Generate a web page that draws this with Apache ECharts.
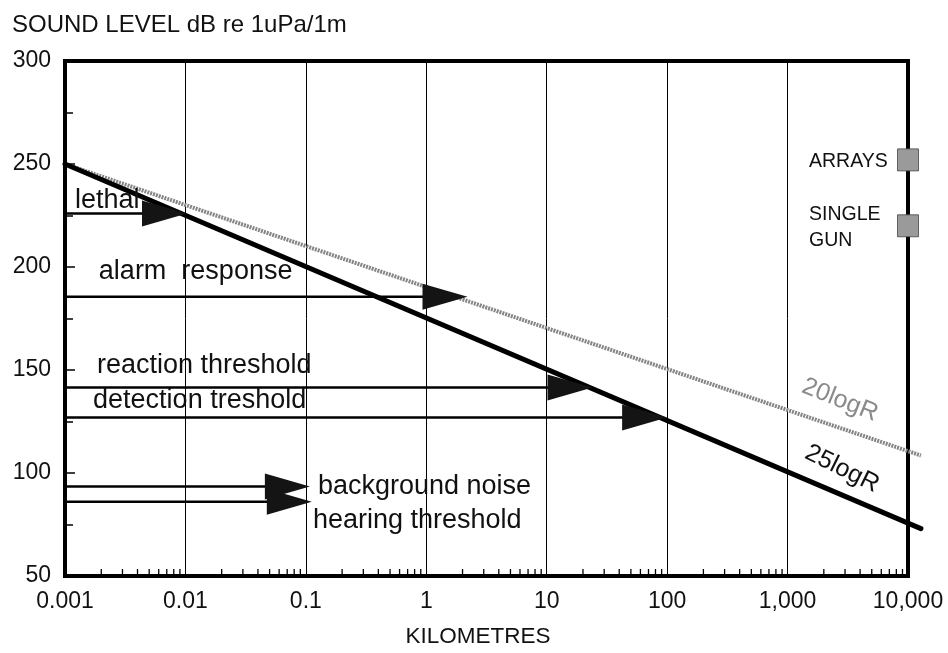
<!DOCTYPE html>
<html>
<head>
<meta charset="utf-8">
<script src="https://cdn.jsdelivr.net/npm/echarts@6/dist/echarts.min.js"></script>
<style>html,body{margin:0;padding:0;background:#fff}#c{width:948px;height:653px}</style>
</head>
<body>
<div id="c"></div>
<script>
// ---- data ----
const xTickLabels = ['0.001', '0.01', '0.1', '1', '10', '100', '1,000', '10,000'];
const line25logR = [[0.001, 250], [12800, 73]];
const line20logR = [[0.001, 250], [12800, 108.5]];
const arrowNames = ['lethal', 'alarm  response', 'reaction threshold', 'detection treshold', 'background noise', 'hearing threshold'];
const arrowLevels = [226, 185.5, 141.5, 127, 93.5, 86];
const arrowTips = [0.0103, 2.2, 24, 100, 0.108, 0.112];
const arrowLabelX = [0.00121, 0.00191, 0.00184, 0.00171, 0.126, 0.1146];
const arrowLabelY = [232.5, 197.6, 152, 135.4, 93.2, 76.7];
const sourceNames = ['ARRAYS', 'SINGLE\nGUN'];
const sourceLevels = [252, 220];
const sourceRange = 10000;
const sourceLabelX = [1507, 1507];
const sourceLabelY = [251, 219];
const lineLabelNames = ['20logR', '25logR'];
const lineLabelX = [2723, 2832];
const lineLabelY = [135.4, 102];

const FONT = 'Liberation Sans, Arial, Helvetica, sans-serif';

// minor tick positions on the log axis (2..9 within each decade)
const minorTicks = [];
for (let e = -3; e < 4; e++) {
  for (let m = 2; m <= 9; m++) minorTicks.push([m * Math.pow(10, e), 50]);
}

function lineSeries(name, data, style) {
  return {
    type: 'custom', name: name, z: name === '25logR' ? 5 : 4, clip: false,
    data: [data.flat()],
    renderItem: function (params, api) {
      const a = api.coord([api.value(0), api.value(1)]);
      const b = api.coord([api.value(2), api.value(3)]);
      return { type: 'line', shape: { x1: a[0], y1: a[1], x2: b[0], y2: b[1] }, style: style };
    },
    dimensions: ['x', 'y', 'x2', 'y2'],
    encode: { x: [0, 2], y: [1, 3] }
  };
}

const chart = echarts.init(document.getElementById('c'));
chart.setOption({
  animation: false,
  backgroundColor: '#fff',
  textStyle: { fontFamily: FONT },
  title: {
    text: 'SOUND LEVEL dB re 1uPa/1m',
    left: 7, top: 8,
    textStyle: { fontFamily: FONT, fontSize: 24, fontWeight: 'normal', color: '#111' }
  },
  grid: {
    left: 65, right: 40, top: 61, bottom: 77,
    show: true, borderColor: '#000', borderWidth: 4, backgroundColor: 'transparent'
  },
  xAxis: {
    type: 'log', logBase: 10, min: 0.001, max: 10000,
    name: 'KILOMETRES', nameLocation: 'middle', nameGap: 49,
    nameTextStyle: { fontFamily: FONT, fontSize: 22.5, color: '#111', padding: [0, 17, 0, 0] },
    axisLine: { lineStyle: { color: '#000', width: 4 } },
    axisTick: { show: false },
    axisLabel: {
      fontFamily: FONT, fontSize: 23, color: '#111', margin: 14,
      formatter: function (v) {
        const i = Math.round(Math.log10(v)) + 3;
        return xTickLabels[i] !== undefined ? xTickLabels[i] : '';
      }
    },
    splitLine: { show: true, lineStyle: { color: '#000', width: 1 } }
  },
  yAxis: {
    type: 'value', min: 50, max: 300, interval: 50,
    axisLine: { show: true, lineStyle: { color: '#000', width: 4 } },
    axisTick: { show: true, inside: true, length: 10, lineStyle: { color: '#000', width: 1.5 } },
    minorTick: { show: true, splitNumber: 2, length: 8, lineStyle: { color: '#000', width: 1.5 } },
    axisLabel: { fontFamily: FONT, fontSize: 23, color: '#111', margin: 14 },
    splitLine: { show: false }
  },
  series: [
    {
      type: 'custom', name: 'minorTicks', z: 3,
      data: minorTicks,
      renderItem: function (params, api) {
        const p = api.coord([api.value(0), api.value(1)]);
        return { type: 'line', shape: { x1: p[0], y1: p[1], x2: p[0], y2: p[1] - 7 },
                 style: { stroke: '#000', lineWidth: 1.3 } };
      }
    },
    lineSeries('20logR', line20logR, { stroke: '#858585', lineWidth: 4, lineDash: [2, 1] }),
    lineSeries('25logR', line25logR, { stroke: '#000', lineWidth: 5, lineCap: 'round' }),
    {
      type: 'custom', name: 'arrows', z: 6,
      data: arrowTips.map((t, i) => [t, arrowLevels[i]]),
      renderItem: function (params, api) {
        const tip = api.coord([api.value(0), api.value(1)]);
        const start = api.coord([0.001, api.value(1)]);
        const L = 45, H = 13;
        return {
          type: 'group',
          children: [
            { type: 'line', shape: { x1: start[0], y1: tip[1], x2: tip[0] - L + 4, y2: tip[1] },
              style: { stroke: '#000', lineWidth: 2.5 } },
            { type: 'polygon', shape: { points: [[tip[0], tip[1]], [tip[0] - L, tip[1] - H], [tip[0] - L, tip[1] + H]] },
              style: { fill: '#141414' } }
          ]
        };
      }
    },
    {
      type: 'custom', name: 'arrowLabels', z: 7,
      data: arrowLabelX.map((x, i) => [x, arrowLabelY[i]]),
      renderItem: function (params, api) {
        const p = api.coord([api.value(0), api.value(1)]);
        return { type: 'text', x: p[0], y: p[1],
                 style: { text: arrowNames[params.dataIndex], fill: '#111', font: '27px ' + FONT,
                          textAlign: 'left', textVerticalAlign: 'middle' } };
      }
    },
    {
      type: 'scatter', name: 'sources', z: 8,
      data: sourceLevels.map(v => [sourceRange, v]),
      symbol: 'rect', symbolSize: [21, 22], clip: false,
      itemStyle: { color: '#9a9a9a', borderColor: '#444', borderWidth: 0.8, opacity: 1 }
    },
    {
      type: 'custom', name: 'sourceLabels', z: 9,
      data: sourceLabelX.map((x, i) => [x, sourceLabelY[i]]),
      renderItem: function (params, api) {
        const p = api.coord([api.value(0), api.value(1)]);
        return { type: 'text', x: p[0], y: p[1],
                 style: { text: sourceNames[params.dataIndex], fill: '#111', font: '19.5px ' + FONT,
                          lineHeight: 26, textAlign: 'left', textVerticalAlign: 'middle' } };
      }
    },
    {
      type: 'custom', name: 'lineLabels', z: 9,
      data: lineLabelX.map((x, i) => [x, lineLabelY[i]]),
      renderItem: function (params, api) {
        const p = api.coord([api.value(0), api.value(1)]);
        const i = params.dataIndex;
        return { type: 'text', x: p[0], y: p[1], rotation: i === 0 ? -0.38 : -0.46,
                 style: { text: lineLabelNames[i], fill: i === 0 ? '#8a8a8a' : '#111',
                          font: '25px ' + FONT, textAlign: 'center', textVerticalAlign: 'middle' } };
      }
    }
  ]
});
</script>
</body>
</html>
